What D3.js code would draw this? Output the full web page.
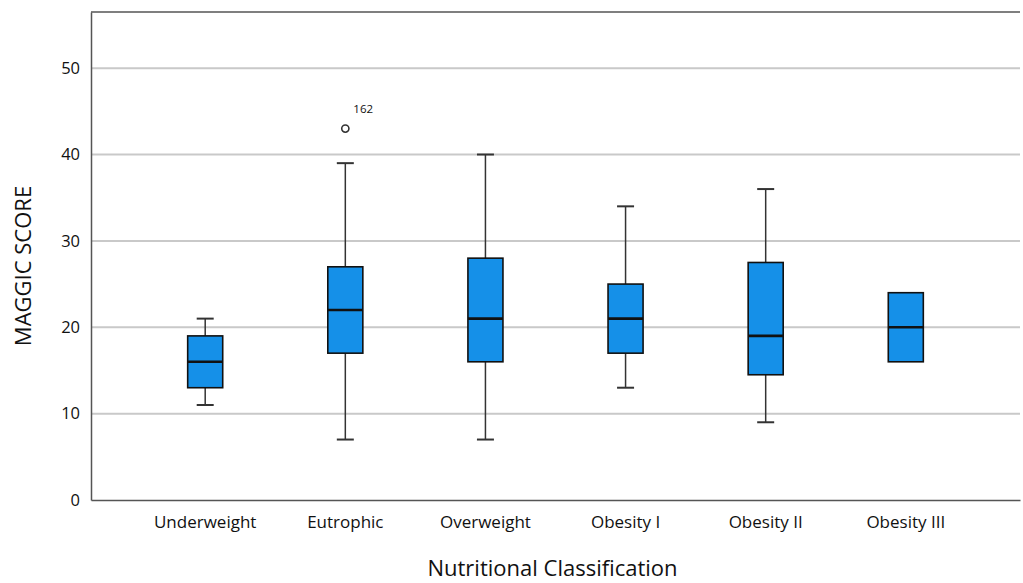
<!DOCTYPE html>
<html>
<head>
<meta charset="utf-8">
<script src="https://cdn.jsdelivr.net/npm/d3@7"></script>
<style>
  html, body { margin: 0; padding: 0; background: #fff; }
  svg { display: block; }
</style>
</head>
<body>
<svg id="chart" width="1023" height="583"></svg>
<script>
// ---- Data ----
const categories = ["Underweight", "Eutrophic", "Overweight", "Obesity I", "Obesity II", "Obesity III"];
const whiskerLow  = [11, 7, 7, 13, 9, 16];
const q1          = [13, 17, 16, 17, 14.5, 16];
const medians     = [16, 22, 21, 21, 19, 20];
const q3          = [19, 27, 28, 25, 27.5, 24];
const whiskerHigh = [21, 39, 40, 34, 36, 24];
const outlierCategory = ["Eutrophic"];
const outlierValues   = [43];
const outlierLabels   = ["162"];
const yTicks = [0, 10, 20, 30, 40, 50];

const yTitle = "MAGGIC SCORE";
const xTitle = "Nutritional Classification";

// ---- Layout ----
const svg = d3.select("#chart");
const plot = { left: 91, right: 1020, top: 12, bottom: 500 };

const x = d3.scaleBand()
  .domain(categories)
  .range([plot.left, plot.right])
  .paddingInner(0.75)
  .paddingOuter(0.69);

const y = d3.scaleLinear()
  .domain([0, 56.5])
  .range([plot.bottom, plot.top]);

const boxColor = "#1590e8";
const font = "'Open Sans', 'Noto Sans', sans-serif";

// gridlines
svg.append("g")
  .selectAll("line")
  .data(yTicks.filter(d => d > 0))
  .join("line")
  .attr("x1", plot.left).attr("x2", plot.right)
  .attr("y1", d => y(d)).attr("y2", d => y(d))
  .attr("stroke", "#c9c9c9").attr("stroke-width", 2);

// top border
svg.append("line")
  .attr("x1", plot.left).attr("x2", plot.right)
  .attr("y1", plot.top).attr("y2", plot.top)
  .attr("stroke", "#555").attr("stroke-width", 1.3);

// y axis
const yAxis = svg.append("g")
  .attr("transform", `translate(${plot.left},0)`)
  .call(d3.axisLeft(y).tickValues(yTicks).tickSize(0).tickPadding(11).tickFormat(d3.format("d")));
yAxis.select(".domain").attr("stroke", "#555").attr("stroke-width", 1.5);
yAxis.selectAll("text")
  .attr("font-family", font).attr("font-size", 16.5).attr("fill", "#111");

// x axis
const xAxis = svg.append("g")
  .attr("transform", `translate(0,${plot.bottom})`)
  .call(d3.axisBottom(x).tickSize(0).tickPadding(16));
xAxis.select(".domain").attr("stroke", "#555").attr("stroke-width", 1.5);
xAxis.selectAll("text")
  .attr("font-family", font).attr("font-size", 17).attr("fill", "#111");

// boxes
const data = categories.map((c, i) => ({
  c, lo: whiskerLow[i], q1: q1[i], med: medians[i], q3: q3[i], hi: whiskerHigh[i]
}));
const bw = x.bandwidth();
const capW = 17;

const g = svg.append("g");
const grp = g.selectAll("g.box").data(data).join("g").attr("class", "box");

// whisker stems
grp.filter(d => d.hi > d.q3).append("line")
  .attr("x1", d => x(d.c) + bw / 2).attr("x2", d => x(d.c) + bw / 2)
  .attr("y1", d => y(d.q3)).attr("y2", d => y(d.hi))
  .attr("stroke", "#333").attr("stroke-width", 1.5);
grp.filter(d => d.lo < d.q1).append("line")
  .attr("x1", d => x(d.c) + bw / 2).attr("x2", d => x(d.c) + bw / 2)
  .attr("y1", d => y(d.q1)).attr("y2", d => y(d.lo))
  .attr("stroke", "#333").attr("stroke-width", 1.5);
// caps
grp.filter(d => d.hi > d.q3).append("line")
  .attr("x1", d => x(d.c) + bw / 2 - capW / 2).attr("x2", d => x(d.c) + bw / 2 + capW / 2)
  .attr("y1", d => y(d.hi)).attr("y2", d => y(d.hi))
  .attr("stroke", "#333").attr("stroke-width", 2);
grp.filter(d => d.lo < d.q1).append("line")
  .attr("x1", d => x(d.c) + bw / 2 - capW / 2).attr("x2", d => x(d.c) + bw / 2 + capW / 2)
  .attr("y1", d => y(d.lo)).attr("y2", d => y(d.lo))
  .attr("stroke", "#333").attr("stroke-width", 2);
// box
grp.append("rect")
  .attr("x", d => x(d.c)).attr("width", bw)
  .attr("y", d => y(d.q3)).attr("height", d => y(d.q1) - y(d.q3))
  .attr("fill", boxColor).attr("stroke", "#111").attr("stroke-width", 1.6);
// median
grp.append("line")
  .attr("x1", d => x(d.c)).attr("x2", d => x(d.c) + bw)
  .attr("y1", d => y(d.med)).attr("y2", d => y(d.med))
  .attr("stroke", "#111").attr("stroke-width", 2.6);

// outliers
const outliers = outlierValues.map((v, i) => ({ c: outlierCategory[i], v, label: outlierLabels[i] }));
svg.append("g").selectAll("circle").data(outliers).join("circle")
  .attr("cx", d => x(d.c) + bw / 2).attr("cy", d => y(d.v))
  .attr("r", 3.6).attr("fill", "#fff").attr("stroke", "#333").attr("stroke-width", 1.6);
svg.append("g").selectAll("text").data(outliers).join("text")
  .attr("x", d => x(d.c) + bw / 2 + 8).attr("y", d => y(d.v) - 16)
  .attr("font-family", font).attr("font-size", 11.5).attr("fill", "#111")
  .text(d => d.label);

// titles
svg.append("text")
  .attr("x", (plot.left + plot.right) / 2 - 3).attr("y", 576)
  .attr("text-anchor", "middle")
  .attr("font-family", font).attr("font-size", 22).attr("fill", "#111")
  .text(xTitle);
svg.append("text")
  .attr("transform", `translate(31,${266}) rotate(-90)`)
  .attr("text-anchor", "middle")
  .attr("font-family", font).attr("font-size", 22).attr("fill", "#111")
  .text(yTitle);
</script>
</body>
</html>
